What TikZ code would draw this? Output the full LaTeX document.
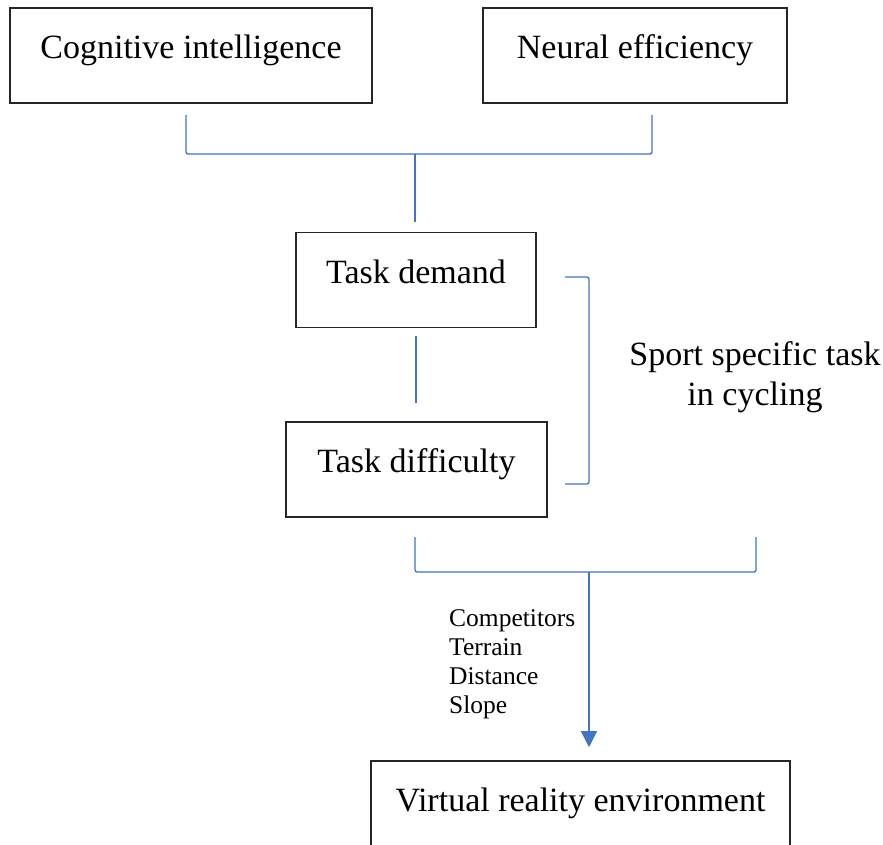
\documentclass[tikz,border=0pt]{standalone}
\usepackage{fontspec}
\setmainfont{Liberation Serif}
\usepackage{xcolor}
\usepackage{tikz}
\usetikzlibrary{arrows.meta,positioning,calc}
\definecolor{linkblue}{HTML}{4472C4}
\newcommand{\bigtext}{\fontsize{34}{40}\selectfont}
\newcommand{\smalltext}{\fontsize{25.5}{29}\selectfont}

\begin{document}
\begin{tikzpicture}[
    x=1pt, y=-1pt,
    box/.style={rectangle, draw=black!85, line width=1.6pt, minimum height=95pt, text height=24pt, text depth=18pt, font=\bigtext},
    link/.style={draw=linkblue, line width=1.3pt, rounded corners=2pt},
    arrow/.style={link, -{Triangle[width=16pt,length=16pt]}}
]
\useasboundingbox (0,0) rectangle (883,844);

% Top boxes
\node[box, minimum width=362pt] (cog) at (191,55.5) {Cognitive intelligence};
\node[box, minimum width=304pt] (neur) at (635,55.5) {Neural efficiency};

% Task boxes
\node[box, minimum width=240pt] (demand) at (416,280) {Task demand};
\node[box, minimum width=261pt] (diff) at (416.5,469.5) {Task difficulty};

% Sport label
\node[font=\bigtext, align=center] (sport) at (755,377) {Sport specific task\\in cycling};

% VR environment
\node[box, minimum width=419pt] (vr) at (580.5,808.5) {Virtual reality environment};

% Factors
\node[font=\smalltext, align=left, anchor=west, inner sep=0pt] (factors) at (449,664) {Competitors\\Terrain\\Distance\\Slope};

% Bracket ends
\coordinate (tl) at (186,115);
\coordinate (tr) at (652,115);
\coordinate (tj) at (415,154);
\coordinate (rt) at (565,277);
\coordinate (rb) at (565,484);
\coordinate (bl) at (415,537);
\coordinate (br) at (756,537);
\coordinate (bj) at (589,572);

% Brackets
\draw[link] (tl) |- (tr |- tj) -- (tr);
\draw[link] (tj) -- (tj |- demand.north) [shorten >=10pt];
\draw[link, shorten <=8pt, shorten >=18pt] (demand.south) -- (demand.south |- diff.north);
\draw[link] (rt) -- ++(24,0) |- (rb);
\draw[link] (bl) |- (br |- bj) -- (br);
\draw[arrow, shorten >=13pt] (bj) -- (bj |- vr.north);

\end{tikzpicture}
\end{document}
